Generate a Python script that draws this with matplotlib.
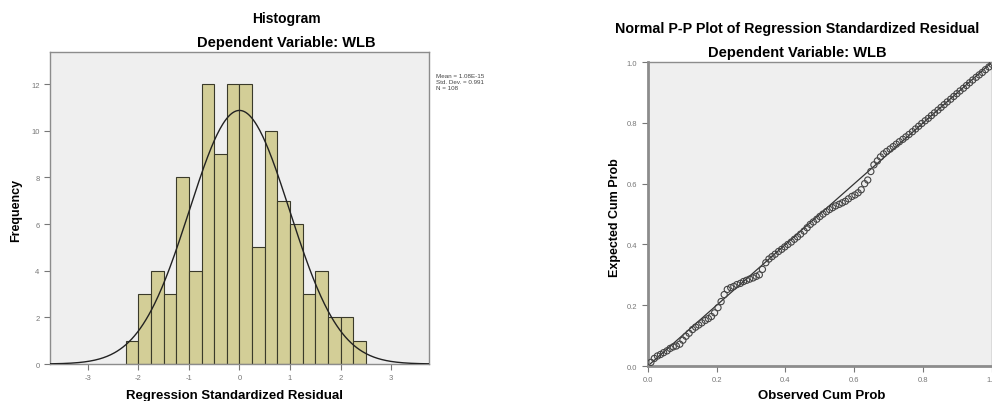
import numpy as np
import matplotlib
matplotlib.use("Agg")
import matplotlib.pyplot as plt

# ---------------- data ----------------
bin_edges = [-2.25, -2.0, -1.75, -1.5, -1.25, -1.0, -0.75, -0.5, -0.25, 0.0,
             0.25, 0.5, 0.75, 1.0, 1.25, 1.5, 1.75, 2.0, 2.25, 2.5]
frequencies = [1, 3, 4, 3, 8, 4, 12, 9, 12, 12, 5, 10, 7, 6, 3, 4, 2, 2, 1]
resid_mean = 0.0
resid_sd = 0.991
resid_n = 108
stats_text = ["Mean = 1.08E-15", "Std. Dev. = 0.991", "N = 108"]
hist_xticks = [-3, -2, -1, 0, 1, 2, 3]
hist_yticks = [0, 2, 4, 6, 8, 10, 12]

observed_cum = [0.009, 0.019, 0.028, 0.037, 0.046, 0.056, 0.065, 0.074, 0.083, 0.093,
                0.102, 0.111, 0.120, 0.130, 0.139, 0.148, 0.157, 0.167, 0.176, 0.185,
                0.194, 0.204, 0.213, 0.222, 0.231, 0.241, 0.250, 0.259, 0.269, 0.278,
                0.287, 0.296, 0.306, 0.315, 0.324, 0.333, 0.343, 0.352, 0.361, 0.370,
                0.380, 0.389, 0.398, 0.407, 0.417, 0.426, 0.435, 0.444, 0.454, 0.463,
                0.472, 0.481, 0.491, 0.500, 0.509, 0.519, 0.528, 0.537, 0.546, 0.556,
                0.565, 0.574, 0.583, 0.593, 0.602, 0.611, 0.620, 0.630, 0.639, 0.648,
                0.657, 0.667, 0.676, 0.685, 0.694, 0.704, 0.713, 0.722, 0.731, 0.741,
                0.750, 0.759, 0.769, 0.778, 0.787, 0.796, 0.806, 0.815, 0.824, 0.833,
                0.843, 0.852, 0.861, 0.870, 0.880, 0.889, 0.898, 0.907, 0.917, 0.926,
                0.935, 0.944, 0.954, 0.963, 0.972, 0.981, 0.991, 1.000]
expected_cum = [0.012, 0.025, 0.033, 0.038, 0.044, 0.050, 0.058, 0.063, 0.066, 0.072,
                0.085, 0.098, 0.108, 0.120, 0.128, 0.135, 0.142, 0.150, 0.156, 0.163,
                0.175, 0.192, 0.212, 0.235, 0.252, 0.258, 0.262, 0.268, 0.272, 0.278,
                0.282, 0.286, 0.290, 0.295, 0.300, 0.318, 0.340, 0.352, 0.360, 0.368,
                0.377, 0.384, 0.392, 0.400, 0.408, 0.417, 0.425, 0.434, 0.444, 0.455,
                0.466, 0.474, 0.483, 0.492, 0.500, 0.508, 0.515, 0.521, 0.527, 0.532,
                0.537, 0.542, 0.550, 0.558, 0.563, 0.570, 0.580, 0.600, 0.612, 0.640,
                0.662, 0.675, 0.688, 0.698, 0.706, 0.714, 0.722, 0.730, 0.738, 0.746,
                0.754, 0.762, 0.771, 0.780, 0.789, 0.798, 0.807, 0.815, 0.824, 0.833,
                0.842, 0.851, 0.860, 0.869, 0.878, 0.887, 0.896, 0.905, 0.914, 0.923,
                0.932, 0.941, 0.950, 0.958, 0.966, 0.975, 0.984, 0.993]
pp_ticks = [0.0, 0.2, 0.4, 0.6, 0.8, 1.0]
pp_ticklabels = ["0.0", "0.2", "0.4", "0.6", "0.8", "1.0"]

# ---------------- style ----------------
plt.rcParams['font.family'] = ['Liberation Sans', 'DejaVu Sans']
BG = "#efefef"
SPINE = "#8c8c8c"
BAR = "#d3ce97"
TICKC = "#777777"
W, H = 992.0, 402.0

fig = plt.figure(figsize=(9.92, 4.02), dpi=100)

# ---------------- histogram ----------------
ax1 = fig.add_axes([0.0504, 0.092, 0.382, 0.776])
ax1.set_facecolor(BG)
edges = np.array(bin_edges)
ax1.bar(edges[:-1], frequencies, width=np.diff(edges), align='edge',
        color=BAR, edgecolor="#3a3a2a", linewidth=0.8, zorder=2)
xs = np.linspace(-3.75, 3.75, 400)
bw = bin_edges[1] - bin_edges[0]
dens = resid_n * bw / (resid_sd * np.sqrt(2 * np.pi)) * np.exp(-0.5 * ((xs - resid_mean) / resid_sd) ** 2)
ax1.plot(xs, dens, color="#222222", linewidth=1.0, zorder=3)
ax1.set_xlim(-3.75, 3.75)
ax1.set_ylim(0, 13.37)
ax1.set_xticks(hist_xticks)
ax1.set_yticks(hist_yticks)
ax1.set_xticklabels([str(t) for t in hist_xticks])
ax1.set_yticklabels([str(t) for t in hist_yticks])
ax1.tick_params(axis='both', labelsize=5.5, colors=TICKC, length=4, width=0.8, direction='out')
for s in ax1.spines.values():
    s.set_color(SPINE)
    s.set_linewidth(1.0)
fig.text(235 / W, 1 - 396 / H, "Regression Standardized Residual", ha='center', va='center',
         fontsize=9.5, fontweight='bold')
fig.text(16 / W, 1 - 210 / H, "Frequency", ha='center', va='center', rotation=90,
         fontsize=9, fontweight='bold')
fig.text(286 / W, 1 - 19 / H, "Histogram", ha='center', va='center', fontsize=10, fontweight='bold')
fig.text(286 / W, 1 - 43 / H, "Dependent Variable: WLB", ha='center', va='center', fontsize=10.5, fontweight='bold')
for k, line in enumerate(stats_text):
    fig.text(436 / W, 1 - (76 + k * 6.5) / H, line, ha='left', va='center', fontsize=4.5, color="#444444")

# ---------------- P-P plot ----------------
ax2 = fig.add_axes([0.653, 0.087, 0.347, 0.756])
ax2.set_facecolor(BG)
ax2.plot([0, 1], [0, 1], color="#333333", linewidth=0.9, zorder=2)
ax2.scatter(observed_cum, expected_cum, s=20, facecolors='none', edgecolors="#444444",
            linewidths=0.8, zorder=3)
ax2.set_xlim(0, 1.0)
ax2.set_ylim(0, 1.0)
ax2.set_xticks(pp_ticks)
ax2.set_yticks(pp_ticks)
ax2.set_xticklabels(pp_ticklabels)
ax2.set_yticklabels(pp_ticklabels)
ax2.tick_params(axis='both', labelsize=5.5, colors=TICKC, length=4, width=0.8, direction='out')
for s in ax2.spines.values():
    s.set_color(SPINE)
    s.set_linewidth(1.0)
ax2.spines['left'].set_linewidth(2.0)
ax2.spines['bottom'].set_linewidth(2.0)
fig.text(822 / W, 1 - 396 / H, "Observed Cum Prob", ha='center', va='center',
         fontsize=9.5, fontweight='bold')
fig.text(615 / W, 1 - 218 / H, "Expected Cum Prob", ha='center', va='center', rotation=90,
         fontsize=9, fontweight='bold')
fig.text(797 / W, 1 - 29 / H, "Normal P-P Plot of Regression Standardized Residual",
         ha='center', va='center', fontsize=10.3, fontweight='bold')
fig.text(797 / W, 1 - 53 / H, "Dependent Variable: WLB", ha='center', va='center',
         fontsize=10.5, fontweight='bold')

fig.savefig("out.png", dpi=100)
